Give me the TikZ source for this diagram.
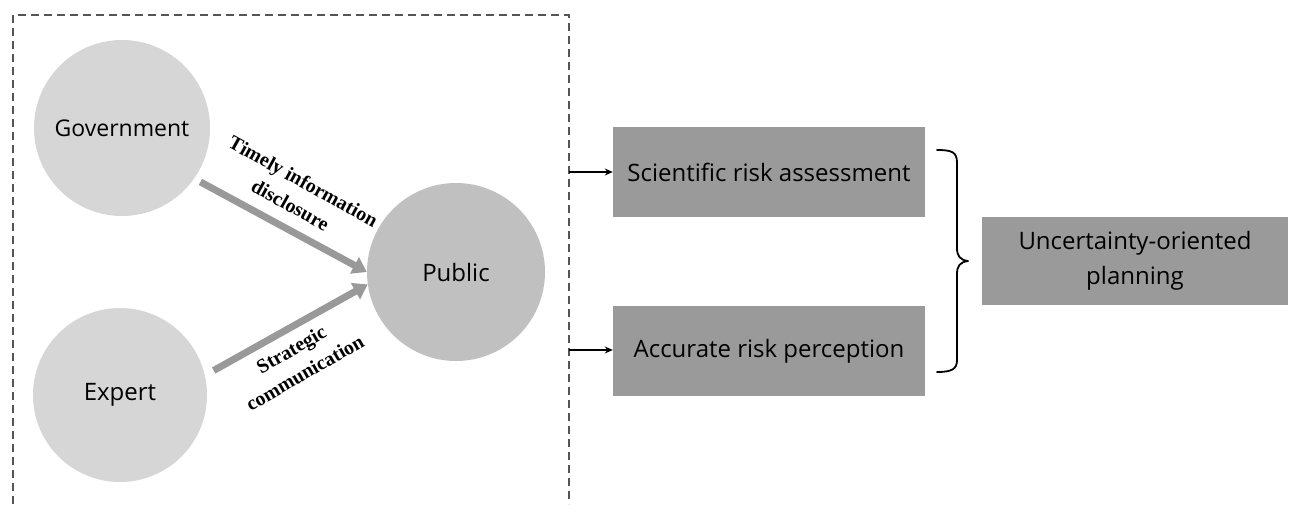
\documentclass[tikz,border=0pt]{standalone}
\usepackage{fontspec}
\setmainfont{Liberation Serif}
\setsansfont{Open Sans}
\usetikzlibrary{arrows.meta,calc}
\definecolor{lightc}{HTML}{D6D6D6}
\definecolor{pubc}{HTML}{C0C0C0}
\definecolor{boxc}{HTML}{9A9A9A}
\definecolor{arrc}{HTML}{999999}
\definecolor{dashc}{HTML}{555555}
\tikzset{
  actor/.style={circle,fill=lightc,inner sep=0pt,font=\sffamily\fontsize{24}{30}\selectfont},
  resbox/.style={rectangle,fill=boxc,inner sep=0pt,minimum width=312pt,minimum height=90pt,font=\sffamily\fontsize{24}{35}\selectfont,align=center},
  flow/.style={draw=arrc,line width=7pt,-{Triangle[width=18pt,length=14pt]}},
  lbl/.style={font=\bfseries\fontsize{20}{27}\selectfont,align=center,inner sep=0pt},
  thinarrow/.style={draw=black,line width=1.3pt,-{Stealth[length=8pt,width=7pt]}},
}
\begin{document}
\begin{tikzpicture}[x=1pt,y=-1pt]
\useasboundingbox (0,0) rectangle (1290,504);
% dashed frame
\draw[dashc,line width=1.3pt,dash pattern=on 8pt off 5pt] (13,504) -- (13,15) -- (569,15) -- (569,504);
% actors
\node[actor,minimum size=176pt,font=\sffamily\fontsize{23}{28}\selectfont] (gov) at (122,128) {Government};
\node[actor,minimum size=174pt] (exp) at (120,395) {Expert};
\node[actor,fill=pubc,minimum size=178pt] (pub) at (456,272) {Public};
% flows
\draw[flow,shorten <=7pt] (gov.-35) -- (pub.180);
\draw[flow,shorten <=10pt] (exp.13) -- (pub.188);
\node[lbl,rotate=-29] (l1) at (297,193) {Timely information\\disclosure};
\node[lbl,rotate=30] (l2) at (298,361) {Strategic\\communication};
% result boxes
\node[resbox] (sci) at (769,172) {Scientific risk assessment};
\node[resbox] (acc) at (769,351) {Accurate risk perception};
\node[resbox,minimum width=306pt,minimum height=88pt] (unc) at (1135,261) {Uncertainty-oriented\\planning};
\coordinate (s1) at (569,172);
\coordinate (s2) at (569,350);
\draw[thinarrow] (s1) -- (sci.west |- s1);
\draw[thinarrow] (s2) -- (acc.west |- s2);
% brace
\draw[line width=1.8pt,line cap=round,line join=round]
  (937,150) .. controls (952,150) and (957,152) .. (957,163)
  -- (957,248) .. controls (957,256) and (960,260) .. (968,261)
  .. controls (960,262) and (957,266) .. (957,274)
  -- (957,360) .. controls (957,369) and (952,372) .. (937,372);
\end{tikzpicture}
\end{document}
